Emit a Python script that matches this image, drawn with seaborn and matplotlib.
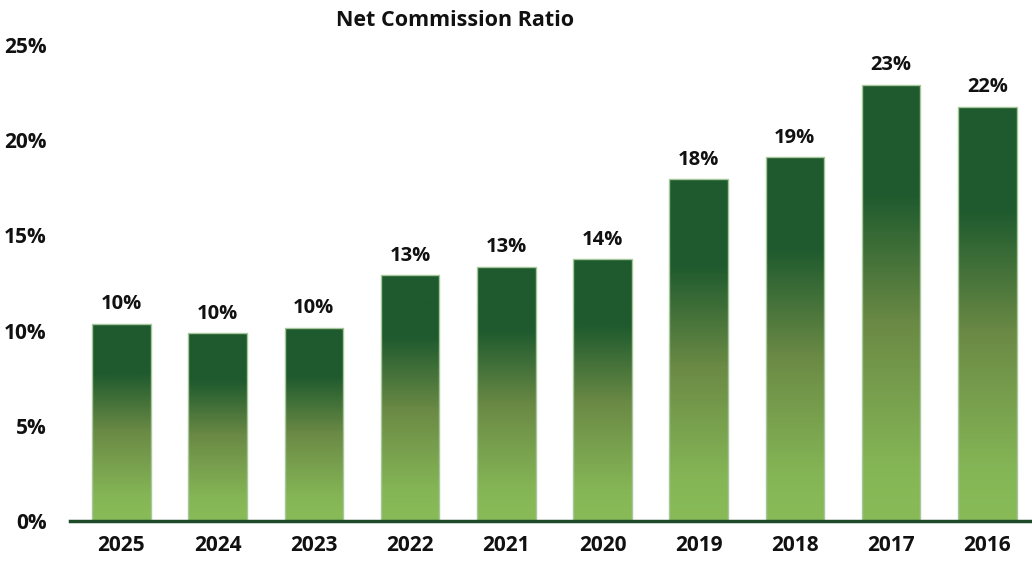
import numpy as np
import pandas as pd
import seaborn as sns
import matplotlib.pyplot as plt
from matplotlib.colors import LinearSegmentedColormap

years = ['2025', '2024', '2023', '2022', '2021', '2020', '2019', '2018', '2017', '2016']
ratio = [10.35, 9.85, 10.15, 12.9, 13.35, 13.75, 17.95, 19.1, 22.9, 21.75]
labels = ['10%', '10%', '10%', '13%', '13%', '14%', '18%', '19%', '23%', '22%']

df = pd.DataFrame({'year': years, 'ratio': ratio})

sns.set_theme(style='white')
plt.rcParams['font.family'] = ['Open Sans', 'DejaVu Sans']

fig, ax = plt.subplots(figsize=(10.32, 5.67), dpi=100)
fig.subplots_adjust(left=70 / 1032, right=1.0, top=1 - 45 / 567, bottom=1 - 521 / 567)

sns.barplot(data=df, x='year', y='ratio', ax=ax, width=0.61, color='#1e5a2e')

# vertical gradient, dark at top -> light at bottom (relative to each bar)
cmap = LinearSegmentedColormap.from_list('grn', [
    (0.0, '#88bb58'),
    (0.12, '#85b656'),
    (0.45, '#6b8a45'),
    (0.75, '#1e5a2e'),
    (1.0, '#1e5a2e'),
])
grad = np.linspace(0, 1, 256).reshape(-1, 1)
for p in ax.patches:
    x0, w, h = p.get_x(), p.get_width(), p.get_height()
    im = ax.imshow(grad, cmap=cmap, aspect='auto', origin='lower',
                   extent=[x0, x0 + w, 0, h], zorder=2)
    im.set_clip_path(p)
    p.set_facecolor('none')
    p.set_edgecolor('#a7c79a')
    p.set_linewidth(1.0)
    p.set_zorder(3)

for i, lab in enumerate(labels):
    ax.text(i, ratio[i] + 0.5, lab, ha='center', va='bottom',
            fontsize=14.5, fontweight='bold', color='#111111')

ax.set_xlim(-0.535, 9.465)
ax.set_ylim(0, 25)
ax.set_yticks([0, 5, 10, 15, 20, 25])
ax.set_yticklabels(['0%', '5%', '10%', '15%', '20%', '25%'])
ax.tick_params(axis='both', length=0, labelsize=15, colors='#111111')
ax.tick_params(axis='y', pad=17)
ax.tick_params(axis='x', pad=10)
for t in ax.get_xticklabels() + ax.get_yticklabels():
    t.set_fontweight('bold')

for s in ['top', 'right', 'left']:
    ax.spines[s].set_visible(False)
ax.spines['bottom'].set_color('#1e4a2a')
ax.spines['bottom'].set_linewidth(2.5)
ax.spines['bottom'].set_zorder(5)

ax.set_xlabel('')
ax.set_ylabel('')

fig.text(455 / 1032, 1 - 20 / 567, 'Net Commission Ratio', ha='center', va='center',
         fontsize=15.5, fontweight='bold', color='#111111')

fig.savefig('out.png', dpi=100)
